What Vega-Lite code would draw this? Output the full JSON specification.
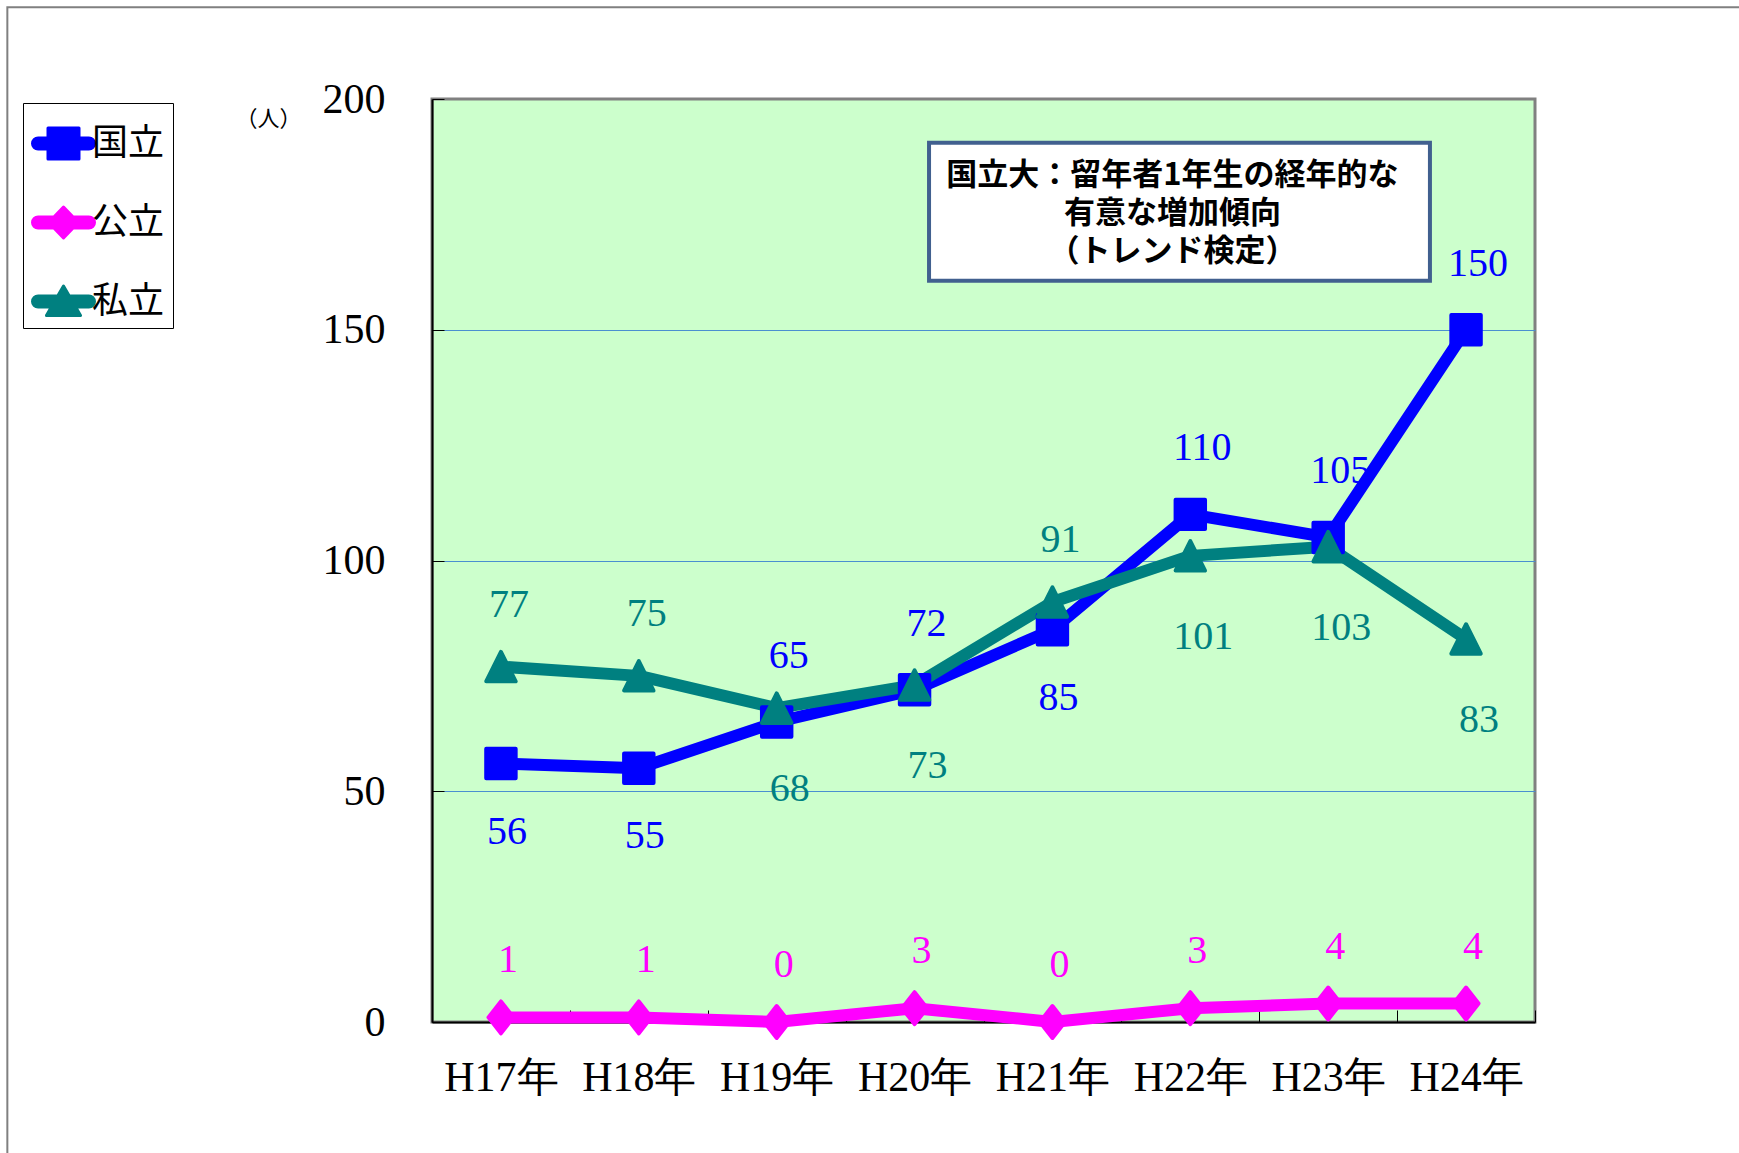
{
  "$schema": "https://vega.github.io/schema/vega-lite/v6.json",
  "width": 1103,
  "height": 923,
  "autosize": {"type": "none"},
  "padding": {"left": 432, "top": 99, "right": 204, "bottom": 131},
  "background": "white",
  "config": {
    "view": {"fill": "#CCFFCC", "stroke": "#808080", "strokeWidth": 3},
    "axis": {"labelFont": "Liberation Serif", "labelFontSize": 42, "labelColor": "#000", "domainColor": "#000", "domainWidth": 2, "tickColor": "#000", "tickWidth": 1}
  },
  "datasets": {
    "main": [
      {"year": "H17年", "series": "公立", "value": 1, "pos": "above"},
      {"year": "H18年", "series": "公立", "value": 1, "pos": "above"},
      {"year": "H19年", "series": "公立", "value": 0, "pos": "above"},
      {"year": "H20年", "series": "公立", "value": 3, "pos": "above"},
      {"year": "H21年", "series": "公立", "value": 0, "pos": "above"},
      {"year": "H22年", "series": "公立", "value": 3, "pos": "above"},
      {"year": "H23年", "series": "公立", "value": 4, "pos": "above"},
      {"year": "H24年", "series": "公立", "value": 4, "pos": "above"},
      {"year": "H17年", "series": "国立", "value": 56, "pos": "below"},
      {"year": "H18年", "series": "国立", "value": 55, "pos": "below"},
      {"year": "H19年", "series": "国立", "value": 65, "pos": "above"},
      {"year": "H20年", "series": "国立", "value": 72, "pos": "above"},
      {"year": "H21年", "series": "国立", "value": 85, "pos": "below"},
      {"year": "H22年", "series": "国立", "value": 110, "pos": "above"},
      {"year": "H23年", "series": "国立", "value": 105, "pos": "above"},
      {"year": "H24年", "series": "国立", "value": 150, "pos": "above"},
      {"year": "H17年", "series": "私立", "value": 77, "pos": "above"},
      {"year": "H18年", "series": "私立", "value": 75, "pos": "above"},
      {"year": "H19年", "series": "私立", "value": 68, "pos": "below"},
      {"year": "H20年", "series": "私立", "value": 73, "pos": "below"},
      {"year": "H21年", "series": "私立", "value": 91, "pos": "above"},
      {"year": "H22年", "series": "私立", "value": 101, "pos": "below"},
      {"year": "H23年", "series": "私立", "value": 103, "pos": "below"},
      {"year": "H24年", "series": "私立", "value": 83, "pos": "below"}
    ],
    "frame": [{"x0": -3.08, "x1": 9.7, "y0": -32, "y1": 219.9}],
    "box": [{"x0": 3.605, "x1": 7.238, "y0": 160.6, "y1": 190.5}],
    "note": [
      {"tx": 5.37, "ty": 183.4, "text": ["国立大：留年者1年生の経年的な", "有意な増加傾向", "（トレンド検定）"]}
    ]
  },
  "layer": [
    {
      "data": {"name": "main"},
      "encoding": {
        "x": {
          "field": "year", "type": "nominal", "sort": null,
          "scale": {"paddingInner": 0, "paddingOuter": 0},
          "axis": {"title": null, "labelAngle": 0, "tickBand": "extent", "tickSize": -12, "labelPadding": 47, "grid": false}
        },
        "y": {
          "field": "value", "type": "quantitative",
          "scale": {"domain": [0, 200], "nice": false},
          "axis": {
            "title": "（人）", "titleAngle": 0, "titleX": -164, "titleY": 19, "titleFontSize": 22,
            "titleFontWeight": "normal", "titleFont": "Noto Sans CJK JP", "titleAlign": "center", "titleBaseline": "middle", "titleColor": "#000",
            "values": [0, 50, 100, 150, 200], "grid": true,
            "gridColor": {"condition": {"test": "datum.value === 0 || datum.value === 200", "value": "transparent"}, "value": "#4a8fd0"},
            "tickSize": -12, "labelPadding": 59
          }
        }
      },
      "layer": [
        {
          "mark": {"type": "line", "strokeWidth": 12, "strokeJoin": "round", "strokeCap": "round"},
          "encoding": {
            "color": {
              "field": "series", "type": "nominal",
              "scale": {"domain": ["国立", "公立", "私立"], "range": ["#0000FF", "#FF00FF", "#008080"]},
              "legend": {
                "title": null, "orient": "none", "legendX": -409, "legendY": 4, "padding": 8,
                "strokeColor": "#000", "fillColor": "#fff", "symbolSize": 3844, "labelFontSize": 36,
                "labelFont": "Noto Sans CJK JP", "labelOffset": -4, "rowPadding": 28, "labelColor": "#000",
                "encode": {
                  "symbols": {
                    "update": {
                      "shape": {"signal": "datum.value === '国立' ? 'M-0.82,-0.18H0.82A0.18,0.18,0,0,1,0.82,0.18H-0.82A0.18,0.18,0,0,1,-0.82,-0.18Z M-0.5,-0.5H0.5V0.5H-0.5Z' : datum.value === '公立' ? 'M-0.82,-0.18H0.82A0.18,0.18,0,0,1,0.82,0.18H-0.82A0.18,0.18,0,0,1,-0.82,-0.18Z M0,-0.5L0.48,0L0,0.5L-0.48,0Z' : 'M-0.82,-0.18H0.82A0.18,0.18,0,0,1,0.82,0.18H-0.82A0.18,0.18,0,0,1,-0.82,-0.18Z M0,-0.5L0.55,0.45L-0.55,0.45Z'"},
                      "fill": {"signal": "scale('color', datum.value)"},
                      "stroke": {"signal": "scale('color', datum.value)"},
                      "strokeWidth": {"value": 3},
                      "strokeJoin": {"value": "round"},
                      "strokeDash": {"value": []},
                      "opacity": {"value": 1},
                      "fillOpacity": {"value": 1},
                      "size": {"value": 3844}
                    }
                  }
                }
              }
            }
          }
        },
        {
          "transform": [{"filter": "datum.series === '公立'"}],
          "mark": {"type": "point", "filled": true, "size": 1200, "strokeWidth": 4, "strokeJoin": "round", "opacity": 1, "fill": "#FF00FF", "stroke": "#FF00FF", "shape": "M0,-0.92L0.72,0L0,0.92L-0.72,0Z"}
        },
        {
          "transform": [{"filter": "datum.series === '国立'"}],
          "mark": {"type": "point", "filled": true, "size": 1200, "strokeWidth": 4, "strokeJoin": "round", "opacity": 1, "fill": "#0000FF", "stroke": "#0000FF", "shape": "M-0.85,-0.85H0.85V0.85H-0.85Z"}
        },
        {
          "transform": [{"filter": "datum.series === '私立'"}],
          "mark": {"type": "point", "filled": true, "size": 1200, "strokeWidth": 4, "strokeJoin": "round", "opacity": 1, "fill": "#008080", "stroke": "#008080", "shape": "M0,-0.85L0.85,0.85L-0.85,0.85Z"}
        },
        {
          "transform": [{"filter": "datum.series === '国立' && datum.pos === 'above'"}],
          "mark": {"type": "text", "font": "Liberation Serif", "fontSize": 40, "dy": -66, "dx": 12, "baseline": "middle", "align": "center"},
          "encoding": {"text": {"field": "value"}, "color": {"field": "series", "type": "nominal"}}
        },
        {
          "transform": [{"filter": "datum.series === '国立' && datum.pos === 'below'"}],
          "mark": {"type": "text", "font": "Liberation Serif", "fontSize": 40, "dy": 68, "dx": 6, "baseline": "middle", "align": "center"},
          "encoding": {"text": {"field": "value"}, "color": {"field": "series", "type": "nominal"}}
        },
        {
          "transform": [{"filter": "datum.series === '私立' && datum.pos === 'above'"}],
          "mark": {"type": "text", "font": "Liberation Serif", "fontSize": 40, "dy": -62, "dx": 8, "baseline": "middle", "align": "center"},
          "encoding": {"text": {"field": "value"}, "color": {"field": "series", "type": "nominal"}}
        },
        {
          "transform": [{"filter": "datum.series === '私立' && datum.pos === 'below'"}],
          "mark": {"type": "text", "font": "Liberation Serif", "fontSize": 40, "dy": 81, "dx": 13, "baseline": "middle", "align": "center"},
          "encoding": {"text": {"field": "value"}, "color": {"field": "series", "type": "nominal"}}
        },
        {
          "transform": [{"filter": "datum.series === '公立'"}],
          "mark": {"type": "text", "font": "Liberation Serif", "fontSize": 40, "dy": -57, "dx": 7, "baseline": "middle", "align": "center"},
          "encoding": {"text": {"field": "value"}, "color": {"field": "series", "type": "nominal"}}
        }
      ]
    },
    {
      "layer": [
        {
          "data": {"name": "frame"},
          "mark": {"type": "rect", "fill": null, "stroke": "#808080", "strokeWidth": 2},
          "encoding": {
            "x": {"field": "x0", "type": "quantitative", "scale": {"domain": [0, 8], "nice": false, "zero": false}, "axis": null},
            "x2": {"field": "x1"},
            "y": {"field": "y0", "type": "quantitative", "scale": {"domain": [0, 200], "nice": false}},
            "y2": {"field": "y1"}
          }
        },
        {
          "data": {"name": "box"},
          "mark": {"type": "rect", "fill": "#ffffff", "stroke": "#41608f", "strokeWidth": 4},
          "encoding": {
            "x": {"field": "x0", "type": "quantitative", "scale": {"domain": [0, 8], "nice": false, "zero": false}, "axis": null},
            "x2": {"field": "x1"},
            "y": {"field": "y0", "type": "quantitative", "scale": {"domain": [0, 200], "nice": false}},
            "y2": {"field": "y1"}
          }
        },
        {
          "data": {"name": "note"},
          "mark": {"type": "text", "font": "Noto Sans CJK JP", "fontWeight": "bold", "fontSize": 31, "lineHeight": 38, "color": "#000", "align": "center", "baseline": "middle"},
          "encoding": {
            "x": {"field": "tx", "type": "quantitative", "scale": {"domain": [0, 8], "nice": false, "zero": false}, "axis": null},
            "y": {"field": "ty", "type": "quantitative", "scale": {"domain": [0, 200], "nice": false}},
            "text": {"field": "text"}
          }
        }
      ]
    }
  ],
  "resolve": {"scale": {"x": "independent"}}
}
